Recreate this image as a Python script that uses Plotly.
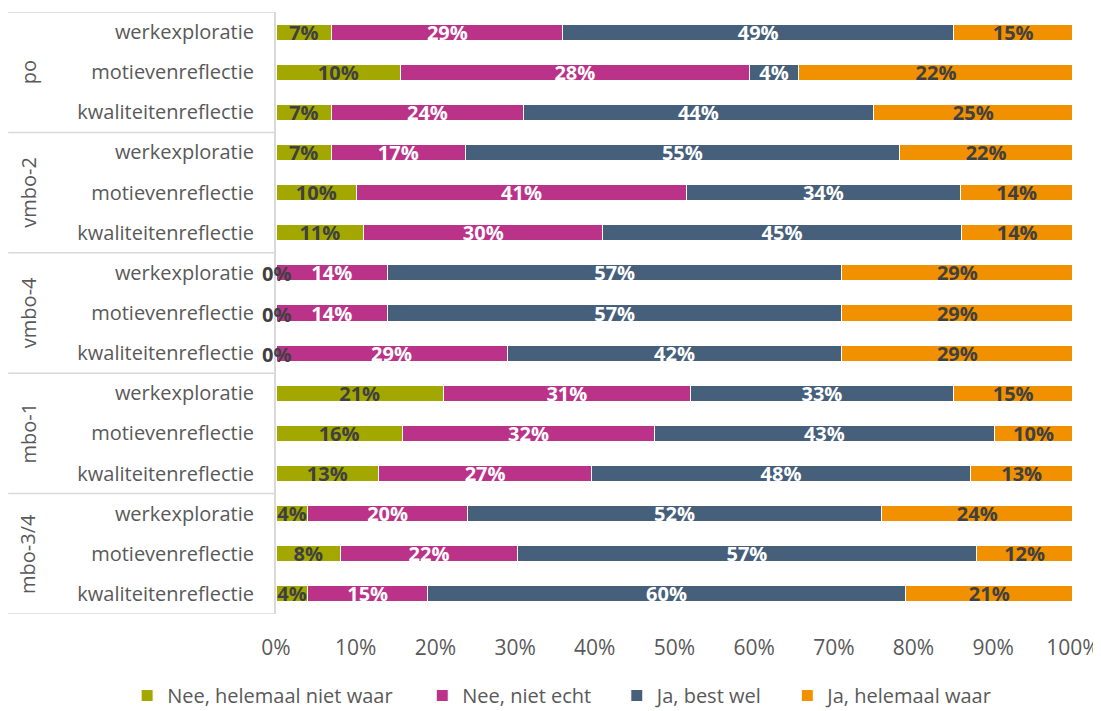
import plotly.graph_objects as go

groups = ["po", "vmbo-2", "vmbo-4", "mbo-1", "mbo-3/4"]
items = ["werkexploratie", "motievenreflectie", "kwaliteitenreflectie"]
series = ["Nee, helemaal niet waar", "Nee, niet echt", "Ja, best wel", "Ja, helemaal waar"]

# rows top to bottom: po werk, po motieven, po kwaliteiten, vmbo-2 ...
nee_helemaal = [7, 10, 7, 7, 10, 11, 0, 0, 0, 21, 16, 13, 4, 8, 4]
nee_niet_echt = [29, 28, 24, 17, 41, 30, 14, 14, 29, 31, 32, 27, 20, 22, 15]
ja_best_wel = [49, 4, 44, 55, 34, 45, 57, 57, 42, 33, 43, 48, 52, 57, 60]
ja_helemaal = [15, 22, 25, 22, 14, 14, 29, 29, 29, 15, 10, 13, 24, 12, 21]

colors = ["#A3A800", "#BB3389", "#465F7A", "#F29100"]
text_colors = ["#404040", "white", "white", "#404040"]
FONT = "Open Sans"

n_rows = len(groups) * len(items)
rows = list(range(n_rows))
row_labels = items * len(groups)

legend_ids = ["legend", "legend2", "legend3", "legend4"]
legend_x = [0.109, 0.379, 0.557, 0.713]  # container fraction, one legend per series

fig = go.Figure()
for name, vals, col, tcol, lid in zip(series, [nee_helemaal, nee_niet_echt, ja_best_wel, ja_helemaal],
                                      colors, text_colors, legend_ids):
    fig.add_trace(go.Bar(
        y=rows, x=vals, orientation="h", name=name, legend=lid, showlegend=True,
        marker=dict(color=col, line=dict(color="white", width=1)),
        text=[f"{v}%" for v in vals], textposition="inside",
        insidetextanchor="middle",
        textfont=dict(family=FONT, size=20, color=tcol, weight="bold"),
        cliponaxis=False,
    ))

shapes = []
annotations = []
# zero-width segments still get their label, centred on the bar start
for i, v in enumerate(nee_helemaal):
    if v == 0:
        annotations.append(dict(xref="x", yref="y", x=0, y=i, text="<b>0%</b>",
                                showarrow=False, yshift=-1, xanchor="center",
                                font=dict(family=FONT, size=20, color="#404040")))

# group dividers and labels
n_items = len(items)
for g in range(len(groups) + 1):
    yy = g * n_items - 0.5
    shapes.append(dict(type="line", xref="paper", yref="y", x0=-0.336, x1=0,
                       y0=yy, y1=yy, line=dict(color="#D9D9D9", width=1.5)))
for g, name in enumerate(groups):
    annotations.append(dict(xref="paper", yref="y", x=-0.311, y=g * n_items + 1,
                            text=name, showarrow=False, textangle=-90,
                            xanchor="center", yanchor="middle",
                            font=dict(family=FONT, size=20, color="#595959")))

legends = {}
for lid, lx in zip(legend_ids, legend_x):
    legends[lid] = dict(orientation="h", xref="container", yref="container",
                        xanchor="left", x=lx, yanchor="middle", y=0.022,
                        font=dict(size=20, color="#595959"),
                        bgcolor="rgba(0,0,0,0)")

# page body has an 8px margin, so the figure is 8px smaller than the window
fig.update_layout(
    barmode="stack", barnorm="percent", bargap=0.6,
    width=1093, height=703, showlegend=True,
    margin=dict(l=268, r=28, t=4, b=97),
    plot_bgcolor="white", paper_bgcolor="white",
    font=dict(family=FONT, size=20, color="#595959"),
    uniformtext=dict(minsize=20, mode="show"),
    shapes=shapes, annotations=annotations,
    xaxis=dict(range=[0, 100.01], tickvals=[0, 10, 20, 30, 40, 50, 60, 70, 80, 90, 100],
               ticktext=[f"{t}%" for t in range(0, 101, 10)], tickfont=dict(size=21),
               showgrid=False, zeroline=False, ticks="outside", ticklen=15,
               tickcolor="rgba(0,0,0,0)", automargin=False),
    yaxis=dict(range=[n_rows - 0.5, -0.5], tickvals=rows, ticktext=row_labels,
               tickfont=dict(size=20),
               showgrid=False, zeroline=False, showline=True, linecolor="#D9D9D9",
               linewidth=2, ticks="outside", ticklen=16, tickcolor="rgba(0,0,0,0)",
               automargin=False),
    **legends,
)

fig.write_html("out.html")
